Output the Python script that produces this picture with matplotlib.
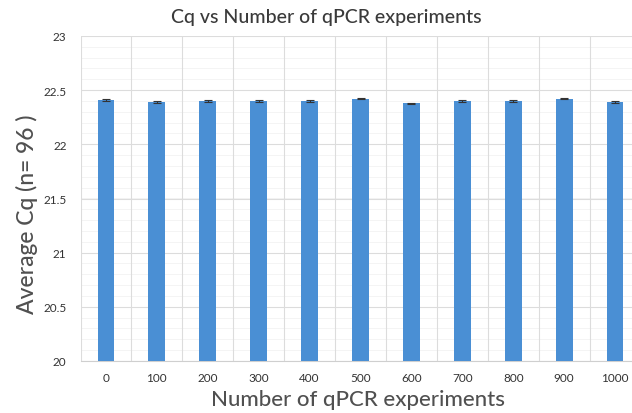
import matplotlib
matplotlib.use("Agg")
import matplotlib.pyplot as plt
import numpy as np

plt.rcParams['font.family'] = ['Lato', 'DejaVu Sans']

categories = ["0", "100", "200", "300", "400", "500", "600", "700", "800", "900", "1000"]
avg_cq = [22.41, 22.39, 22.40, 22.40, 22.40, 22.42, 22.38, 22.40, 22.40, 22.42, 22.39]
err = [0.006, 0.006, 0.006, 0.006, 0.006, 0.006, 0.006, 0.006, 0.006, 0.006, 0.006]
y_ticks = [20, 20.5, 21, 21.5, 22, 22.5, 23]
y_tick_labels = ["20", "20.5", "21", "21.5", "22", "22.5", "23"]

fig = plt.figure(figsize=(6.32, 4.14), dpi=100)
# plot area runs past the right edge of the image (cropped in the reference)
ax = fig.add_axes([80.5/632, 1-362/414, 560/632, 325/414])

x = np.arange(len(categories))
ax.bar(x, avg_cq, width=0.33, color='#4a8fd4', zorder=3,
       yerr=err, error_kw=dict(ecolor='#333333', elinewidth=0.8, capsize=3, capthick=0.8, zorder=4))

ax.set_xlim(-0.5, len(categories) - 0.5)
ax.set_ylim(20, 23)
ax.set_yticks(y_ticks)
ax.set_yticklabels(y_tick_labels)
ax.set_xticks(x)
ax.set_xticklabels(categories)

# grid: vertical at category boundaries, horizontal at major ticks
for b in np.arange(-0.5, len(categories), 1.0):
    ax.axvline(b, color='#dcdcdc', lw=0.8, zorder=1)
for yt in y_ticks:
    ax.axhline(yt, color='#dcdcdc', lw=0.8, zorder=1)
for yt in np.arange(20.1, 23, 0.1):
    ax.axhline(yt, color='#f3f3f3', lw=0.6, zorder=0.5)

for s in ax.spines.values():
    s.set_visible(False)
ax.spines['bottom'].set_visible(True)
ax.spines['bottom'].set_color('#cfcfcf')
ax.tick_params(axis='both', length=0, labelsize=8.5, labelcolor='#333333')
ax.tick_params(axis='x', pad=8)
ax.tick_params(axis='y', pad=10)

fig.text(326/632, 1-17/414, "Cq vs Number of qPCR experiments", fontsize=14,
         color='#3a3a3a', ha='center', va='center', fontweight='medium')
fig.text(358/632, 1-400/414, "Number of qPCR experiments", fontsize=16,
         color='#505050', ha='center', va='center', fontweight='medium')
fig.text(27/632, 1-214/414, "Average Cq (n= 96 )", fontsize=16.5, rotation=90,
         color='#505050', ha='center', va='center', fontweight='medium')

fig.savefig("out.png", dpi=100, facecolor='white')
